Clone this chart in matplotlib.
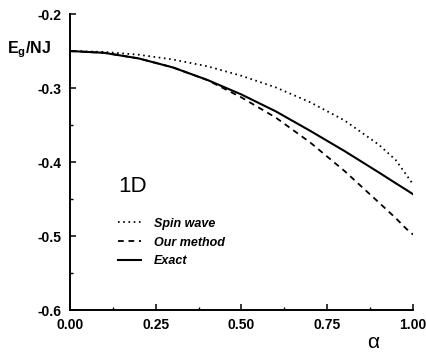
import matplotlib
matplotlib.use("Agg")
import matplotlib.pyplot as plt
from matplotlib.ticker import MultipleLocator

plt.rcParams['font.family'] = ['Liberation Sans', 'DejaVu Sans']
plt.rcParams['mathtext.fontset'] = 'custom'
plt.rcParams['mathtext.rm'] = 'Liberation Sans:bold'
plt.rcParams['mathtext.it'] = 'Liberation Sans:bold'
plt.rcParams['mathtext.bf'] = 'Liberation Sans:bold'

# ---- data ----
alpha = [0.0, 0.1, 0.2, 0.3, 0.4, 0.5, 0.6, 0.7, 0.8, 0.9, 0.95, 0.98, 1.0]
spin_wave = [-0.2500, -0.2513, -0.2550, -0.2615, -0.2706, -0.2835, -0.2992,
             -0.3192, -0.3437, -0.3765, -0.3975, -0.4170, -0.4300]
our_method = [-0.2500, -0.2525, -0.2600, -0.2722, -0.2892, -0.3128, -0.3400,
              -0.3735, -0.4120, -0.4545, -0.4760, -0.4900, -0.4980]
exact = [-0.2500, -0.2525, -0.2600, -0.2722, -0.2890, -0.3088, -0.3316,
         -0.3578, -0.3851, -0.4140, -0.4288, -0.4375, -0.4435]

xticks = [0.0, 0.25, 0.5, 0.75, 1.0]
xtick_labels = ['0.00', '0.25', '0.50', '0.75', '1.00']
yticks = [-0.6, -0.5, -0.4, -0.3, -0.2]
ytick_labels = ['-0.6', '-0.5', '-0.4', '-0.3', '-0.2']
series_labels = ['Spin wave', 'Our method', 'Exact']

fig = plt.figure(figsize=(4.27, 3.52), dpi=100)
ax = fig.add_axes([70/427, 1-310/352, 343/427, 296/352])

ax.plot(alpha, spin_wave, color='black', lw=1.3, linestyle=(0, (0.9, 2.0)),
        label=series_labels[0])
ax.plot(alpha, our_method, color='black', lw=1.3, linestyle=(0, (3.2, 2.6)),
        label=series_labels[1])
ax.plot(alpha, exact, color='black', lw=1.5, linestyle='-',
        label=series_labels[2])

ax.set_xlim(0, 1.0)
ax.set_ylim(-0.6, -0.2)
ax.set_xticks(xticks)
ax.set_xticklabels(xtick_labels)
ax.set_yticks(yticks)
ax.set_yticklabels(ytick_labels)
ax.xaxis.set_minor_locator(MultipleLocator(0.125))
ax.yaxis.set_minor_locator(MultipleLocator(0.05))

for s in ['top', 'right']:
    ax.spines[s].set_visible(False)
for s in ['left', 'bottom']:
    ax.spines[s].set_linewidth(1.4)

ax.tick_params(which='major', direction='in', length=4, width=1.1,
               labelsize=10, pad=6)
ax.tick_params(which='minor', direction='in', length=2.5, width=1.0)
for lab in ax.get_xticklabels() + ax.get_yticklabels():
    lab.set_fontweight('bold')

fig.text(7/427, 1-50/352, r'$\mathrm{E_g/NJ}$', fontsize=11.5,
         ha='left', va='center')
fig.text(373/427, 1-343/352, 'α', fontsize=15, ha='center', va='center')

ax.text(0.181, 0.416, '1D', fontsize=16, ha='center', va='center',
        transform=ax.transAxes)

leg = ax.legend(loc='upper left', bbox_to_anchor=(0.14, 0.312), frameon=False,
                fontsize=9, handlelength=1.8, handletextpad=1.1,
                labelspacing=0.55, borderpad=0, borderaxespad=0)
for t in leg.get_texts():
    t.set_fontweight('bold')
    t.set_fontstyle('italic')

fig.savefig('out.png', dpi=100)
